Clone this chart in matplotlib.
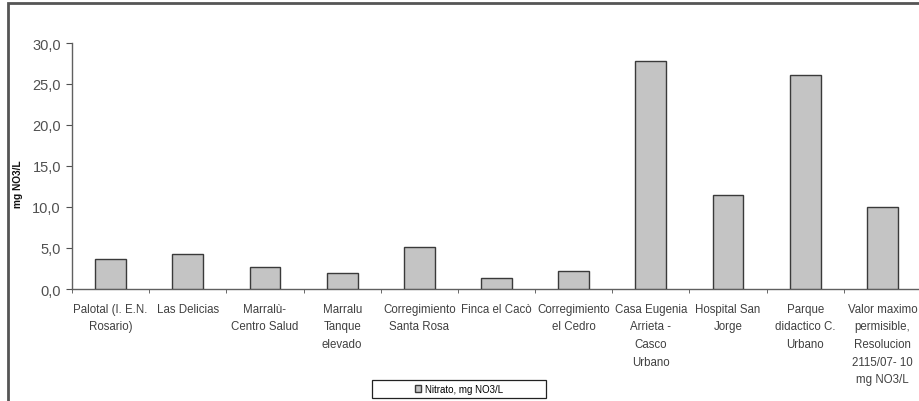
import matplotlib
matplotlib.use('Agg')
import matplotlib.pyplot as plt
from matplotlib.patches import Rectangle
import numpy as np

plt.rcParams['font.family'] = ['Liberation Sans', 'DejaVu Sans']

# sampling points and measured nitrate (mg NO3/L)
stations = [
    'Palotal (I. E.N.\nRosario)',
    'Las Delicias',
    'Marralù-\nCentro Salud',
    'Marralu\nTanque\nelevado',
    'Corregimiento\nSanta Rosa',
    'Finca el Cacò',
    'Corregimiento\nel Cedro',
    'Casa Eugenia\nArrieta -\nCasco\nUrbano',
    'Hospital San\nJorge',
    'Parque\ndidactico C.\nUrbano',
    'Valor maximo\npermisible,\nResolucion\n2115/07- 10\nmg NO3/L',
]
nitrato = [3.7, 4.3, 2.7, 1.9, 5.1, 1.3, 2.2, 27.8, 11.5, 26.1, 10.0]
y_ticks = [0, 5, 10, 15, 20, 25, 30]
series_name = 'Nitrato, mg NO3/L'

fig = plt.figure(figsize=(9.2, 4.02), dpi=100)
ax = fig.add_axes([72 / 920, 1 - 290 / 402, 849 / 920, 246 / 402])

x = np.arange(len(stations))
ax.bar(x, nitrato, width=0.4, color='#c4c4c4', edgecolor='#3a3a3a',
       linewidth=1.0, label=series_name, zorder=3)

ax.set_xlim(-0.5, len(stations) - 0.5)
ax.set_ylim(0, 30)
ax.set_yticks(y_ticks)
ax.set_yticklabels([f'{v:.1f}'.replace('.', ',') for v in y_ticks],
                   fontsize=10.5, color='#505050')

# category labels centred, tick marks between categories
ax.set_xticks(x)
ax.set_xticklabels(stations, fontsize=8.3, color='#404040', linespacing=1.62)
ax.set_xticks(np.arange(len(stations) + 1) - 0.5, minor=True)
ax.tick_params(axis='x', which='major', length=0, pad=10)
ax.tick_params(axis='x', which='minor', length=3, color='#505050', direction='out')
ax.tick_params(axis='y', length=4, color='#505050', direction='out', pad=4)

for side in ['top', 'right']:
    ax.spines[side].set_visible(False)
for side in ['left', 'bottom']:
    ax.spines[side].set_color('#606060')
    ax.spines[side].set_linewidth(1.0)

fig.text(18 / 920, 1 - 184 / 402, 'mg NO3/L', rotation=90, fontsize=7.3,
         fontweight='bold', ha='center', va='center', color='#111111')

# legend without its own frame, boxed separately at a fixed width
fig.legend(loc='center', bbox_to_anchor=(459 / 920, 1 - 390 / 402),
           fontsize=7, frameon=False, handlelength=0.7, handleheight=0.7,
           handletextpad=0.4)
fig.patches.append(Rectangle((372 / 920, 1 - 399 / 402), 174 / 920, 18 / 402,
                             transform=fig.transFigure, fill=False,
                             edgecolor='#222222', linewidth=0.9))

# outer chart frame
fig.patches.append(Rectangle((8 / 920, -0.05), 1.0, 1 - 4 / 402 + 0.05,
                             transform=fig.transFigure, fill=False,
                             edgecolor='#555555', linewidth=2.0))

fig.savefig('out.png', dpi=100)
